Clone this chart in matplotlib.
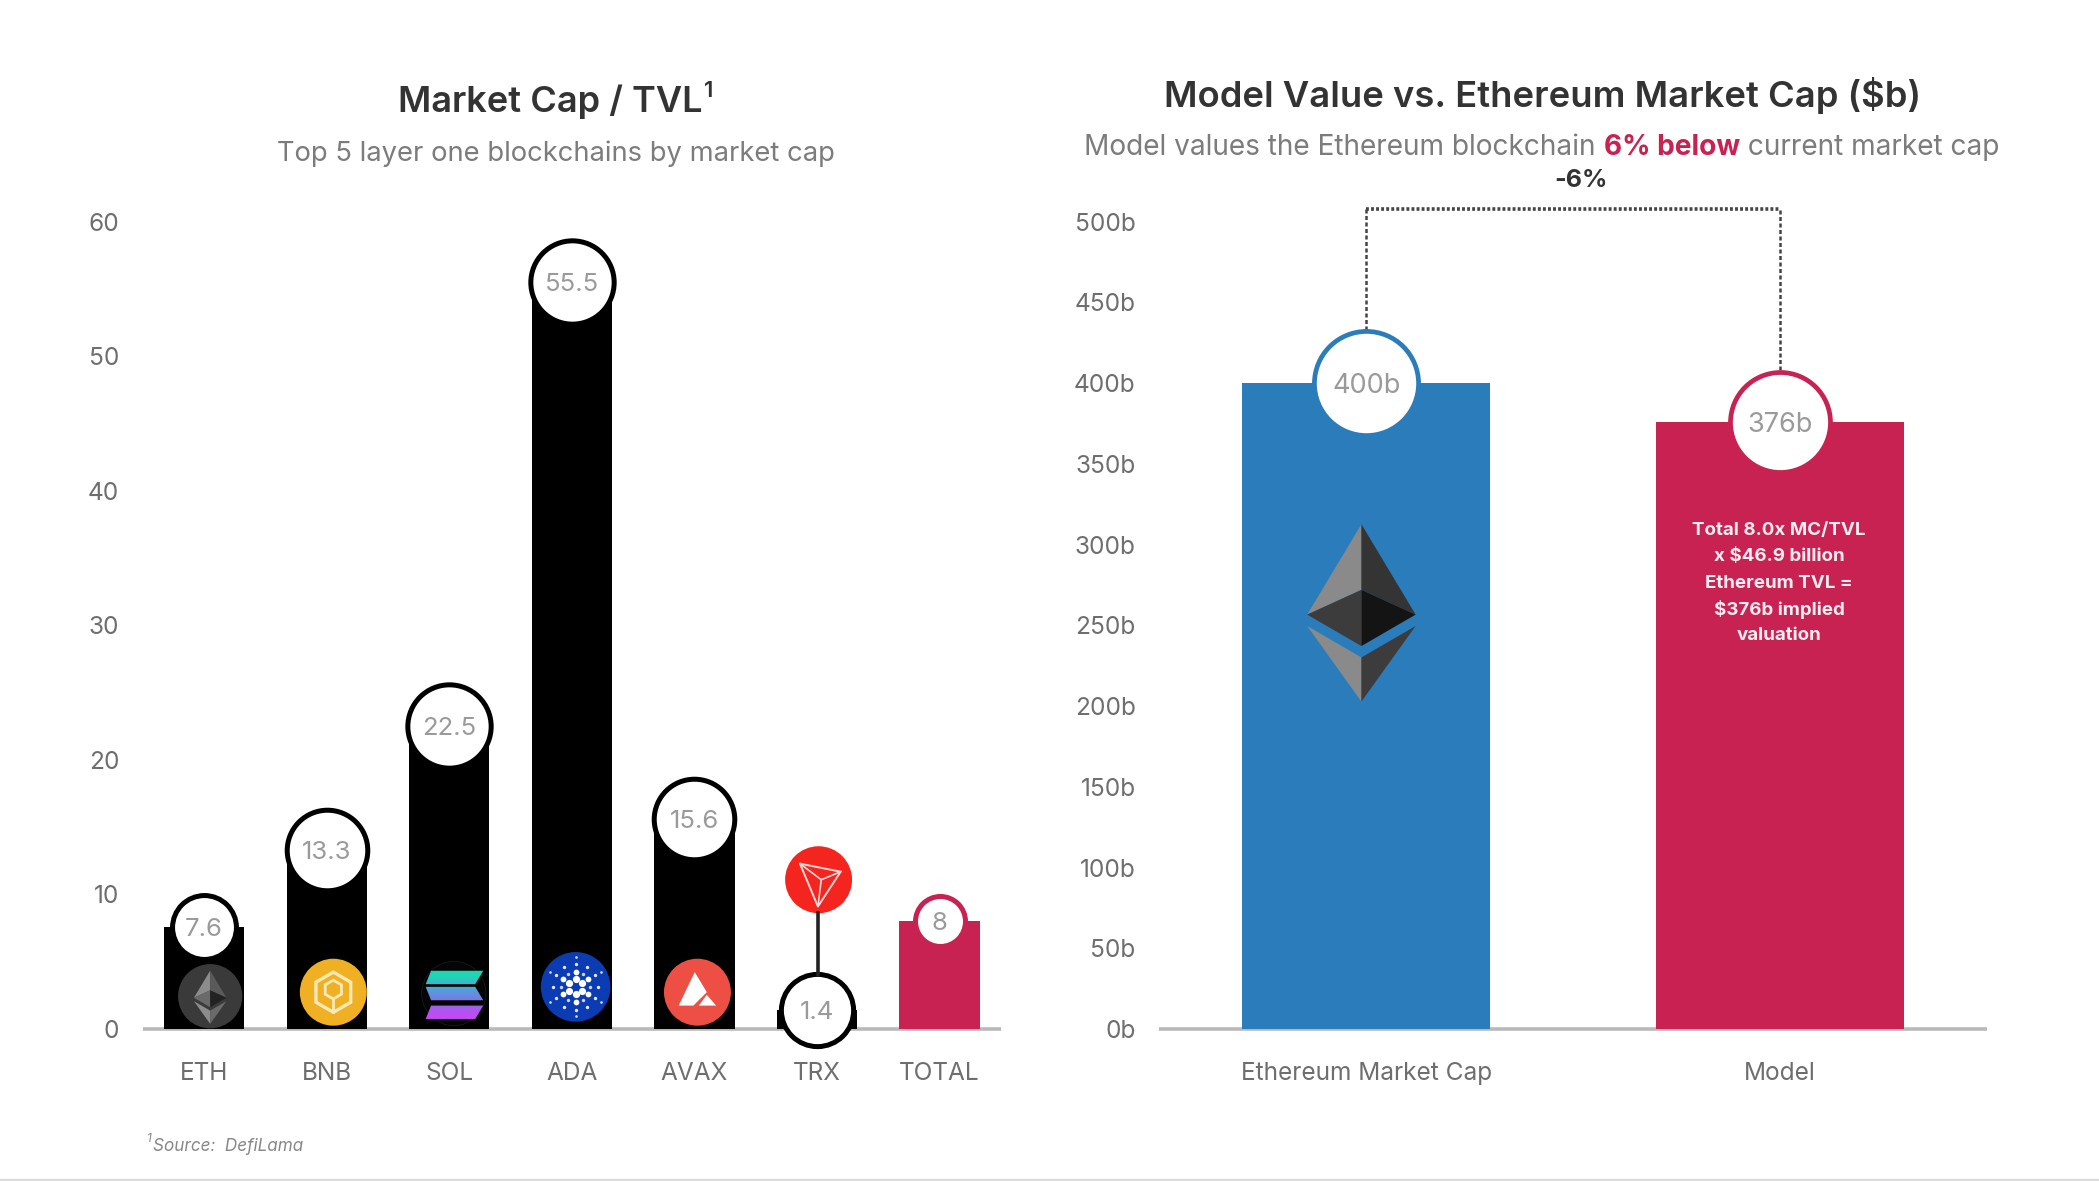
import numpy as np
import matplotlib
matplotlib.use('Agg')
import matplotlib.pyplot as plt
from matplotlib.patches import Circle, Polygon

plt.rcParams['font.family'] = ['Inter', 'DejaVu Sans']

# values
tickers = ['ETH', 'BNB', 'SOL', 'ADA', 'AVAX', 'TRX', 'TOTAL']
mc_tvl = [7.6, 13.3, 22.5, 55.5, 15.6, 1.4, 8]
mc_tvl_labels = ['7.6', '13.3', '22.5', '55.5', '15.6', '1.4', '8']
left_ticks = [0, 10, 20, 30, 40, 50, 60]

models = ['Ethereum Market Cap', 'Model']
model_values = [400, 376]
model_labels = ['400b', '376b']
right_ticks = [0, 50, 100, 150, 200, 250, 300, 350, 400, 450, 500]
right_tick_labels = ['0b', '50b', '100b', '150b', '200b', '250b', '300b', '350b', '400b', '450b', '500b']

BLUE = '#2a7dba'
RED = '#c82252'
TXT = '#6e6e6e'
DARK = '#333333'
W, H = 1568, 882  # layout below is worked out on this grid


def make_axes(fig, x0, x1):
    # y: 60 / 500 sits at 165, zero at 768
    return fig.add_axes([x0 / W, 1 - 768.5 / H, (x1 - x0) / W, (768.5 - 165.5) / H])


def clean(ax):
    for side in ['top', 'left', 'right']:
        ax.spines[side].set_visible(False)
    ax.spines['bottom'].set_color('#b9b9b9')
    ax.spines['bottom'].set_linewidth(2.6)
    ax.spines['bottom'].set_capstyle('butt')
    ax.spines['bottom'].set_zorder(1)
    ax.tick_params(length=0, labelsize=17.6, labelcolor=TXT)
    ax.tick_params(axis='x', pad=24)
    ax.tick_params(axis='y', pad=17)
    ax.patch.set_alpha(0)


def bubble(ax, x, y, r, edge, label, lw=3.6, fs=18.5):
    ax.scatter([x], [y], s=(2 * r) ** 2, facecolor='white', edgecolor=edge, linewidth=lw,
               zorder=4, clip_on=False)
    ax.text(x, y, label, ha='center', va='center_baseline', fontsize=fs, color='#9a9a9a', zorder=5)


def eth_logo(ov, cx, cy, k, cols):
    pts = [
        ([(0, -67), (-40.5, 0.5), (0, -18)], cols[0]),
        ([(0, -67), (40.5, 0.5), (0, -18)], cols[1]),
        ([(-40.5, 0.5), (0, -18), (0, 24)], cols[2]),
        ([(40.5, 0.5), (0, -18), (0, 24)], cols[3]),
        ([(-40.5, 9), (0, 32.5), (0, 65.5)], cols[0]),
        ([(40.5, 9), (0, 32.5), (0, 65.5)], cols[2]),
    ]
    for p, c in pts:
        ov.add_patch(Polygon([(cx + a * k, cy + b * k) for a, b in p], closed=True, fc=c, ec='none'))


fig = plt.figure(figsize=(20.99, 11.81), dpi=100, facecolor='white')

# left panel
ax1 = make_axes(fig, 106.7, 747.7)
xs = np.arange(len(tickers))
bar_cols = ['black'] * 6 + [RED]
ax1.bar(xs, mc_tvl, width=0.655, color=bar_cols, zorder=2)
ax1.set_xlim(-0.5, 6.5)
ax1.set_ylim(0, 60)
ax1.set_xticks(xs, tickers)
ax1.set_yticks(left_ticks)
clean(ax1)
left_r = [23, 29, 30, 30, 29, 26, 18]
for i, v in enumerate(mc_tvl):
    bubble(ax1, xs[i], v, left_r[i], bar_cols[i], mc_tvl_labels[i])

# right panel
ax2 = make_axes(fig, 866, 1484)
xs2 = np.arange(len(models))
ax2.bar(xs2, model_values, width=0.6, color=[BLUE, RED], zorder=2)
ax2.set_xlim(-0.5, 1.5)
ax2.set_ylim(0, 500)
ax2.set_xticks(xs2, models)
ax2.set_yticks(right_ticks, right_tick_labels)
clean(ax2)
bubble(ax2, 0, model_values[0], 37.5, BLUE, model_labels[0], lw=3.4, fs=19.5)
bubble(ax2, 1, model_values[1], 36, RED, model_labels[1], lw=3.4, fs=19.5)
ax2.plot([0, 0], [433, 508], color='#444444', lw=1.8, ls=(0, (1.6, 1.0)), clip_on=False, zorder=1)
ax2.plot([1, 1], [408, 508], color='#444444', lw=1.8, ls=(0, (1.6, 1.0)), clip_on=False, zorder=1)
ax2.plot([0, 1], [508, 508], color='#444444', lw=2.6, ls=(0, (0.8, 0.6)), clip_on=False, zorder=1)

# overlay for titles, coin icons and footnote, same grid as above
ov = fig.add_axes([0, 0, 1, 1], zorder=10)
ov.set_xlim(0, W)
ov.set_ylim(H, 0)
ov.axis('off')

ov.text(411, 76, 'Market Cap / TVL', ha='center', va='center', fontsize=26, fontweight='semibold', color=DARK)
ov.text(526, 68, '1', ha='left', va='center', fontsize=16, fontweight='semibold', color=DARK)
ov.text(415, 115, 'Top 5 layer one blockchains by market cap', ha='center', va='center', fontsize=19.7, color='#7c7c7c')
ov.text(1152.5, 71, 'Model Value vs. Ethereum Market Cap ($b)', ha='center', va='center', fontsize=26.2,
        fontweight='semibold', color=DARK)

t = ov.text(810, 110, 'Model values the Ethereum blockchain ', ha='left', va='center', fontsize=20.2, color='#7c7c7c')
t = ov.annotate('6% below', xy=(1, 0), xycoords=t, va='bottom', ha='left', fontsize=20.2,
                fontweight='bold', color=RED)
ov.annotate(' current market cap', xy=(1, 0), xycoords=t, va='bottom', ha='left', fontsize=20.2, color='#7c7c7c')
ov.text(1181, 135, '-6%', ha='center', va='center', fontsize=18, fontweight='bold', color=DARK)

for i, line in enumerate(['Total 8.0x MC/TVL', 'x $46.9 billion', 'Ethereum TVL =', '$376b implied', 'valuation']):
    ov.text(1329, 396 + i * 19.7, line, ha='center', va='center', fontsize=13.5, fontweight='bold', color='#fbeef2')

ov.text(110, 851, '1', fontsize=8.5, style='italic', color='#888888', va='center')
ov.text(114, 856, 'Source:  DefiLama', fontsize=12.3, style='italic', color='#888888', va='center')

# big ether logo on the blue bar
eth_logo(ov, 1017, 458.5, 1, ['#8a8a8a', '#343434', '#3c3c3c', '#141414'])

# ETH coin
ov.add_patch(Circle((157, 744), 24, fc='#3a3a3a', ec='none'))
eth_logo(ov, 157, 745, 0.3, ['#8c8c8c', '#5a5a5a', '#6a6a6a', '#222222'])

# BNB coin
ov.add_patch(Circle((249, 741), 25, fc='#f0b024', ec='none'))
hex_a = np.deg2rad(np.arange(30, 390, 60))
ov.add_patch(Polygon(np.c_[249 + 15 * np.cos(hex_a), 741 + 15 * np.sin(hex_a)], closed=True, fill=False,
                     ec='#fde9b5', lw=2.4))
ov.add_patch(Polygon(np.c_[249 + 7 * np.cos(hex_a), 739 + 7 * np.sin(hex_a)], closed=True, fill=False,
                     ec='#fde9b5', lw=2))
ov.plot([249, 249], [746, 756], color='#fde9b5', lw=2)

# SOL coin: three slanted stripes with a teal to purple fade
ov.add_patch(Circle((339, 742), 24, fc='#050505', ec='#1a1a1a', lw=0.6))
grad = np.array([[0.11, 0.85, 0.70], [0.30, 0.65, 0.85], [0.50, 0.45, 0.90], [0.75, 0.30, 0.95]]).reshape(4, 1, 3)
stripes = [
    [(322, 725), (361, 725), (355, 735), (318, 735)],
    [(318, 737), (355, 737), (361, 747), (322, 747)],
    [(322, 751), (361, 751), (355, 761), (318, 761)],
]
for st in stripes:
    poly = Polygon(st, closed=True, transform=ov.transData, fc='none', ec='none')
    ov.add_patch(poly)
    im = ov.imshow(grad, extent=(316, 362, 762, 724), aspect='auto', interpolation='bilinear', zorder=3)
    im.set_clip_path(poly)
ov.set_xlim(0, W)
ov.set_ylim(H, 0)

# ADA coin: rings of dots
ov.add_patch(Circle((430, 737), 26, fc='#0c3cb4', ec='none'))
for rad, n, size, alpha in [(5.5, 6, 3.0, 1), (11, 6, 2.4, 1), (11, 6, 1.4, 0.8), (17, 12, 1.4, 0.9), (22, 6, 1.1, 0.8)]:
    ang = np.linspace(0, 2 * np.pi, n, endpoint=False) + (np.pi / 6 if size == 1.4 and rad == 11 else 0)
    ov.scatter(430 + rad * np.sin(ang), 737 + rad * np.cos(ang), s=size ** 2 * 3, color='white', alpha=alpha,
               linewidths=0, zorder=3)

# AVAX coin
ov.add_patch(Circle((521, 741), 25, fc='#ee4f45', ec='none'))
ov.add_patch(Polygon([(519, 726), (528, 741), (518, 751), (507, 751)], closed=True, fc='white', ec='none'))
ov.add_patch(Polygon([(528, 743), (535, 751), (522, 751)], closed=True, fc='white', ec='none'))

# TRX coin and its stem
ov.plot([611, 611], [682, 728], color='#222222', lw=2.6)
ov.add_patch(Circle((611.5, 657), 25, fc='#f4251f', ec='none'))
tri = [(597.6, 645), (628, 651), (611, 677)]
mid = (613.5, 657)
ov.add_patch(Polygon(tri, closed=True, fill=False, ec='#ffd9d6', lw=1.4))
for p in tri:
    ov.plot([mid[0], p[0]], [mid[1], p[1]], color='#ffd9d6', lw=1.2)

# thin rule at the bottom of the slide
ov.plot([0, W], [881, 881], color='#dddddd', lw=2.5, clip_on=True)

fig.savefig('out.png', dpi=100)
